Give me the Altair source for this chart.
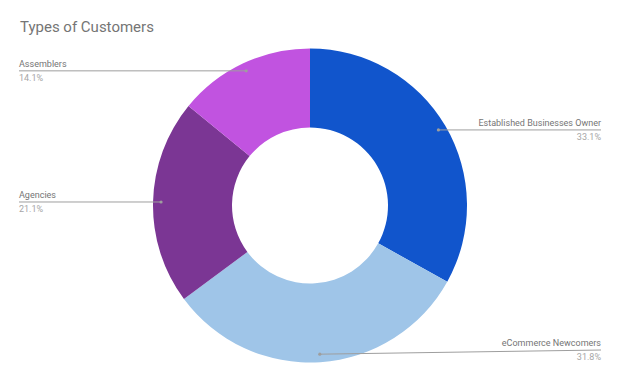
import math
import altair as alt
import pandas as pd

# ---- data ----
categories = ["Established Businesses Owner", "eCommerce Newcomers", "Agencies", "Assemblers"]
values = [33.1, 31.8, 21.1, 14.1]
colors = ["#1155cc", "#9fc5e8", "#7b3694", "#c153e0"]
title_text = "Types of Customers"

# ---- layout (pixels inside the view) ----
W, H = 604, 366
CX, CY = 302, 197.5
R_OUT, R_IN = 157, 78
R_DOT = 149
LEFT_X, RIGHT_X = 11, 593
MAX_LABEL_Y = 342

total = sum(values)
rows = []
cum = 0.0
for i, (c, v) in enumerate(zip(categories, values)):
    mid = (cum + v / 2) / total * 2 * math.pi
    cum += v
    dx = CX + R_DOT * math.sin(mid)
    dy = CY - R_DOT * math.cos(mid)
    right = dx > CX
    rows.append({
        "cat": c, "value": v, "order": i, "pct": f"{v:.1f}%",
        "dotx": dx, "doty": dy,
        "lx": RIGHT_X if right else LEFT_X,
        "ly": min(dy, MAX_LABEL_Y),
        "side": "right" if right else "left",
    })
df = pd.DataFrame(rows)

xs = alt.Scale(domain=[0, W], range=[0, W], nice=False, zero=False)
ys = alt.Scale(domain=[0, H], range=[0, H], nice=False, zero=False)

base = alt.Chart(df)

arc = base.mark_arc(outerRadius=R_OUT, innerRadius=R_IN).encode(
    theta=alt.Theta("value:Q", stack=True),
    order=alt.Order("order:Q"),
    color=alt.Color("cat:N", scale=alt.Scale(domain=categories, range=colors), legend=None),
    x=alt.value(CX), y=alt.value(CY),
)

rule = base.mark_rule(color="#9e9e9e", strokeWidth=1).encode(
    x=alt.X("dotx:Q", scale=xs, axis=None),
    x2="lx:Q",
    y=alt.Y("doty:Q", scale=ys, axis=None),
    y2="ly:Q",
)

dots = base.mark_circle(size=10, color="#9e9e9e", opacity=1).encode(
    x=alt.X("dotx:Q", scale=xs, axis=None),
    y=alt.Y("doty:Q", scale=ys, axis=None),
)

def labels(side, align):
    b = base.transform_filter(alt.datum.side == side)
    name = b.mark_text(align=align, baseline="bottom", dy=-2, font="Roboto",
                       fontSize=9, color="#757575").encode(
        x=alt.X("lx:Q", scale=xs, axis=None),
        y=alt.Y("ly:Q", scale=ys, axis=None),
        text="cat:N",
    )
    pct = b.mark_text(align=align, baseline="top", dy=3, font="Roboto",
                      fontSize=9, color="#a6a6a6").encode(
        x=alt.X("lx:Q", scale=xs, axis=None),
        y=alt.Y("ly:Q", scale=ys, axis=None),
        text="pct:N",
    )
    return name + pct

title = alt.Chart(pd.DataFrame({"t": [title_text]})).mark_text(
    align="left", baseline="alphabetic", font="Roboto", fontSize=15, color="#757575"
).encode(x=alt.value(12), y=alt.value(24), text="t:N")

chart = alt.layer(arc, rule, dots, labels("right", "right"), labels("left", "left"), title).properties(
    width=W, height=H, padding=0, autosize=alt.AutoSizeParams(type="none")
).configure_view(stroke=None)

chart.save("out.html", embed_options={"renderer": "svg", "actions": False})
